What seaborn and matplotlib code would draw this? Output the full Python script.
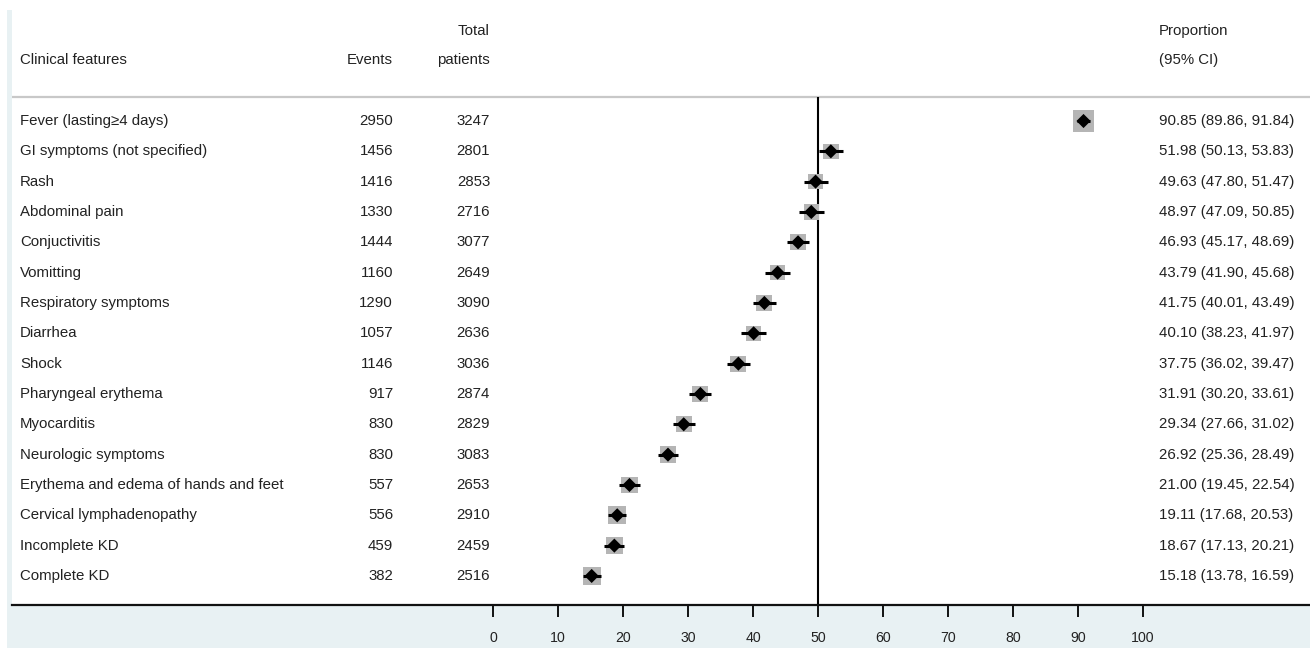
import matplotlib
matplotlib.use("Agg")
from matplotlib import pyplot as plt
from matplotlib.patches import Rectangle
import seaborn as sns
import pandas as pd
import numpy as np

features = ["Fever (lasting\u22654 days)", "GI symptoms (not specified)", "Rash",
            "Abdominal pain", "Conjuctivitis", "Vomitting", "Respiratory symptoms",
            "Diarrhea", "Shock", "Pharyngeal erythema", "Myocarditis",
            "Neurologic symptoms", "Erythema and edema of hands and feet",
            "Cervical lymphadenopathy", "Incomplete KD", "Complete KD"]
events = [2950, 1456, 1416, 1330, 1444, 1160, 1290, 1057, 1146, 917, 830, 830, 557, 556, 459, 382]
totals = [3247, 2801, 2853, 2716, 3077, 2649, 3090, 2636, 3036, 2874, 2829, 3083, 2653, 2910, 2459, 2516]
prop = [90.85, 51.98, 49.63, 48.97, 46.93, 43.79, 41.75, 40.10, 37.75, 31.91, 29.34, 26.92, 21.00, 19.11, 18.67, 15.18]
lower = [89.86, 50.13, 47.80, 47.09, 45.17, 41.90, 40.01, 38.23, 36.02, 30.20, 27.66, 25.36, 19.45, 17.68, 17.13, 13.78]
upper = [91.84, 53.83, 51.47, 50.85, 48.69, 45.68, 43.49, 41.97, 39.47, 33.61, 31.02, 28.49, 22.54, 20.53, 20.21, 16.59]
ticks = [0, 10, 20, 30, 40, 50, 60, 70, 80, 90, 100]

df = pd.DataFrame({"feature": features, "events": events, "total": totals,
                   "prop": prop, "lower": lower, "upper": upper})
df["row"] = np.arange(len(df))
# box size from inverse-variance weight
w = df["total"] / (df["prop"] / 100 * (1 - df["prop"] / 100))
side = 15.2 * (w / w.max()) ** 0.25
df["box"] = side ** 2

sns.set_theme(style="white")
plt.rcParams["font.family"] = ["Liberation Sans", "DejaVu Sans"]

W, H = 1310, 648
fig = plt.figure(figsize=(W / 100, H / 100), dpi=100, facecolor="white")
fig.patches.append(Rectangle((7 / W, 0), 1, (H - 10) / H, transform=fig.transFigure,
                             facecolor="#e8f1f3", edgecolor="none", zorder=-1))
ax = fig.add_axes([12 / W, (H - 605) / H, (W - 12) / W, 605 / H])
ax.set_zorder(2)
ax.set_facecolor("white")

# pixel geometry: 0 at x=493, 100 at x=1143; rows at y=121 + 30.33*i
px_unit = 6.5
ax.set_xlim((12 - 493) / px_unit, (W - 493) / px_unit)
row_h = 30.33
ax.set_ylim((605 - 121) / row_h, (0 - 121) / row_h)

txt = "#222222"
fs = 10.8
tr = ax.get_yaxis_transform()
def fx(p):
    return (p - 12) / (W - 12)

def fy(p):
    return (p - 121) / row_h

# header
ax.text(fx(490), fy(31), "Total", transform=tr, ha="right", va="center", fontsize=fs, color=txt)
ax.text(fx(20), fy(60), "Clinical features", transform=tr, ha="left", va="center", fontsize=fs, color=txt)
ax.text(fx(393), fy(60), "Events", transform=tr, ha="right", va="center", fontsize=fs, color=txt)
ax.text(fx(490), fy(60), "patients", transform=tr, ha="right", va="center", fontsize=fs, color=txt)
ax.text(fx(1159), fy(31), "Proportion", transform=tr, ha="left", va="center", fontsize=fs, color=txt)
ax.text(fx(1159), fy(60), "(95% CI)", transform=tr, ha="left", va="center", fontsize=fs, color=txt)
ax.axhline(fy(97), color="#c8c8c8", lw=1.6, zorder=1)

for _, r in df.iterrows():
    y = r["row"]
    ax.text(fx(20), y, r["feature"], transform=tr, ha="left", va="center", fontsize=fs, color=txt)
    ax.text(fx(393), y, f"{r['events']}", transform=tr, ha="right", va="center", fontsize=fs, color=txt)
    ax.text(fx(490), y, f"{r['total']}", transform=tr, ha="right", va="center", fontsize=fs, color=txt)
    ax.text(fx(1159), y, f"{r['prop']:.2f} ({r['lower']:.2f}, {r['upper']:.2f})",
            transform=tr, ha="left", va="center", fontsize=fs, color=txt)

# null line
ax.vlines(50, fy(97), fy(605), color="black", lw=1.5, zorder=2)

sns.scatterplot(data=df, x="prop", y="row", size="box", sizes=(df["box"].min(), df["box"].max()),
                marker="s", color="#b5b5b5", edgecolor="none", legend=False, ax=ax, zorder=3)
ax.hlines(df["row"], df["lower"], df["upper"], color="black", lw=2.2, zorder=4)
sns.scatterplot(data=df, x="prop", y="row", marker="D", s=52, color="black",
                edgecolor="none", legend=False, ax=ax, zorder=5)

for s in ["top", "left", "right"]:
    ax.spines[s].set_visible(False)
ax.spines["bottom"].set_color("#111111")
ax.spines["bottom"].set_linewidth(1.6)
ax.set_xticks(ticks)
ax.set_xticklabels([str(t) for t in ticks], fontsize=10.2, color=txt)
ax.tick_params(axis="x", bottom=True, direction="out", length=8.5, width=1.4,
               color="#111111", pad=10)
ax.set_yticks([])
ax.set_xlabel("")
ax.set_ylabel("")

fig.savefig("out.png", dpi=100, facecolor=fig.get_facecolor())
